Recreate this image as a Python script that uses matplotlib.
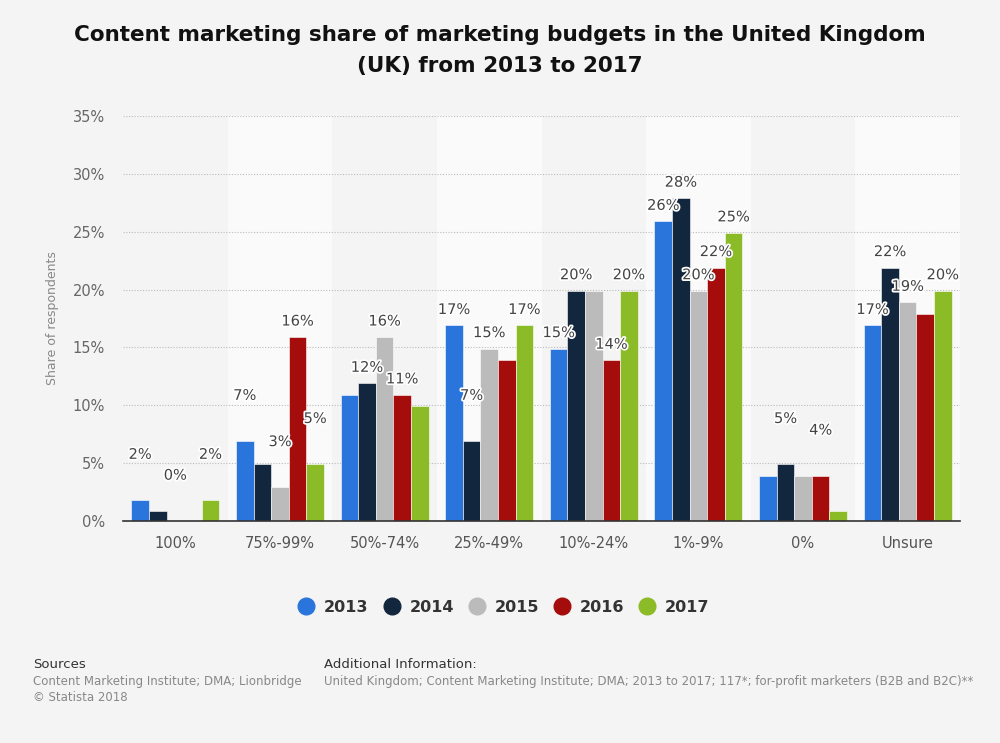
import matplotlib
matplotlib.use("Agg")
import matplotlib.pyplot as plt
import matplotlib.patheffects as pe
from matplotlib.lines import Line2D
import numpy as np

categories = ["100%", "75%-99%", "50%-74%", "25%-49%", "10%-24%", "1%-9%", "0%", "Unsure"]
years = ["2013", "2014", "2015", "2016", "2017"]

values = {
    "2013": [1.8, 6.9, 10.9, 16.9, 14.9, 25.9, 3.9, 16.9],
    "2014": [0.9, 4.9, 11.9, 6.9, 19.9, 27.9, 4.9, 21.9],
    "2015": [0.0, 2.9, 15.9, 14.9, 19.9, 19.9, 3.9, 18.9],
    "2016": [0.0, 15.9, 10.9, 13.9, 13.9, 21.9, 3.9, 17.9],
    "2017": [1.8, 4.9, 9.9, 16.9, 19.9, 24.9, 0.9, 19.9],
}

# labels as shown on the chart ("" = hidden by overlap)
labels = {
    "2013": ["2%", "7%", "", "17%", "15%", "26%", "", "17%"],
    "2014": ["", "", "12%", "7%", "20%", "28%", "5%", "22%"],
    "2015": ["0%", "3%", "16%", "15%", "", "20%", "", "19%"],
    "2016": ["", "16%", "11%", "", "14%", "22%", "4%", ""],
    "2017": ["2%", "5%", "", "17%", "20%", "25%", "", "20%"],
}

colors = {
    "2013": "#2a75db",
    "2014": "#12263d",
    "2015": "#bbbbbb",
    "2016": "#a50d0d",
    "2017": "#8bbb26",
}

yticks = [0, 5, 10, 15, 20, 25, 30, 35]

bg = "#f4f4f4"
fig = plt.figure(figsize=(10, 7.43), dpi=100, facecolor=bg)
ax = fig.add_axes([0.123, 0.2988, 0.837, 0.5451])
ax.set_facecolor(bg)

x = np.arange(len(categories))
width = 0.168

# alternating lighter bands
for i in x:
    if i % 2 == 1:
        ax.axvspan(i - 0.5, i + 0.5, color="#fafafa", zorder=0, lw=0)

for j, yr in enumerate(years):
    pos = x + (j - 2) * width
    ax.bar(pos, values[yr], width=width, color=colors[yr], zorder=3,
           edgecolor="white", linewidth=0.4)
    for p, v, lab in zip(pos, values[yr], labels[yr]):
        if not lab:
            continue
        off = 33 if v < 8 else 11.5
        ax.annotate(lab, (p, v), xytext=(0, off), textcoords="offset points",
                    ha="center", va="center", fontsize=10.5, color="#444444",
                    zorder=5,
                    path_effects=[pe.withStroke(linewidth=2.5, foreground="white")])

ax.set_xlim(-0.5, len(categories) - 0.5)
ax.set_ylim(0, 35)
ax.set_yticks(yticks)
ax.set_yticklabels(["%d%%" % t for t in yticks], fontsize=10.5, color="#666666")
ax.set_xticks(x)
ax.set_xticklabels(categories, fontsize=10.5, color="#555555")
ax.tick_params(axis="both", length=0)
ax.tick_params(axis="y", pad=13)
ax.tick_params(axis="x", pad=11)
ax.grid(True, axis="y", color="#bbbbbb", linestyle=(0, (1, 1.5)), linewidth=0.8, zorder=1)
ax.set_axisbelow(True)
for s in ["top", "right", "left"]:
    ax.spines[s].set_visible(False)
ax.spines["bottom"].set_color("#333333")
ax.spines["bottom"].set_linewidth(1.2)
ax.spines["bottom"].set_zorder(6)
ax.set_ylabel("Share of respondents", fontsize=9, color="#888888", labelpad=10)

fig.text(0.5, 0.932, "Content marketing share of marketing budgets in the United Kingdom\n(UK) from 2013 to 2017",
         ha="center", va="center", fontsize=15.5, fontweight="bold", color="#111111",
         linespacing=1.7)

handles = [Line2D([0], [0], marker="o", linestyle="", markersize=12,
                  markerfacecolor=colors[yr], markeredgecolor=colors[yr]) for yr in years]
leg = fig.legend(handles, years, loc="center", bbox_to_anchor=(0.5, 0.183), ncol=5,
                 frameon=False, handletextpad=0.1, columnspacing=0.45,
                 prop={"weight": "bold", "size": 11.5})
for t in leg.get_texts():
    t.set_color("#333333")

fig.text(0.033, 0.105, "Sources", fontsize=9.5, color="#333333", va="center")
fig.text(0.033, 0.091, "Content Marketing Institute; DMA; Lionbridge\n\u00a9 Statista 2018",
         fontsize=8.5, color="#888888", va="top", linespacing=1.25)
fig.text(0.324, 0.105, "Additional Information:", fontsize=9.5, color="#333333", va="center")
fig.text(0.324, 0.091, "United Kingdom; Content Marketing Institute; DMA; 2013 to 2017; 117*; for-profit marketers (B2B and B2C)**",
         fontsize=8.5, color="#888888", va="top")

fig.savefig("out.png", dpi=100, facecolor=bg)
